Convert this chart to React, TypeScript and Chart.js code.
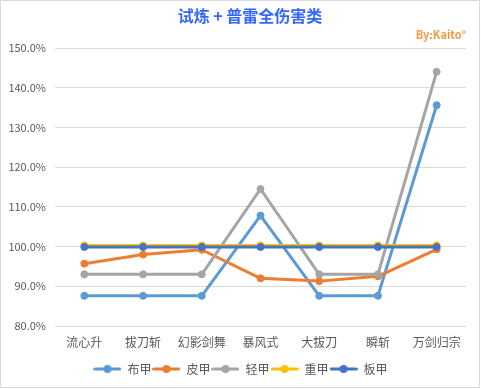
import React, { useEffect, useRef } from "react";
import { Chart, registerables } from "chart.js";

Chart.register(...registerables);

const categories = ["流心升", "拔刀斩", "幻影剑舞", "暴风式", "大拔刀", "瞬斩", "万剑归宗"];
const seriesNames = ["布甲", "皮甲", "轻甲", "重甲", "板甲"];
const buJia = [87.6, 87.6, 87.6, 107.8, 87.6, 87.6, 135.6];
const piJia = [95.7, 98.0, 99.2, 92.0, 91.3, 92.5, 99.3];
const qingJia = [93.0, 93.0, 93.0, 114.5, 93.0, 93.0, 144.0];
const zhongJia = [100.3, 100.3, 100.3, 100.3, 100.3, 100.3, 100.3];
const banJia = [99.9, 99.9, 99.9, 99.9, 99.9, 99.9, 99.9];
const seriesValues = [buJia, piJia, qingJia, zhongJia, banJia];
const seriesColors = ["#5B9BD5", "#ED7D31", "#A5A5A5", "#FFC000", "#4472C4"];
const yMin = 80;
const yMax = 150;
const yStep = 10;
const titleText = "试炼 + 普雷全伤害类";
const signText = "By:Kaito°";

const FONT = '"Noto Sans CJK SC", "Noto Sans", sans-serif';
const TEXT_GRAY = "#595959";

function makeLegendIcon(color: string): HTMLCanvasElement {
  const c = document.createElement("canvas");
  c.width = 28;
  c.height = 10;
  const g = c.getContext("2d")!;
  g.strokeStyle = color;
  g.lineWidth = 3;
  g.lineCap = "round";
  g.beginPath();
  g.moveTo(1.5, 5);
  g.lineTo(26.5, 5);
  g.stroke();
  g.fillStyle = color;
  g.beginPath();
  g.arc(14, 5, 4, 0, Math.PI * 2);
  g.fill();
  return c;
}

const decorPlugin = {
  id: "decor",
  beforeDraw(chart: any) {
    const { ctx, width, height } = chart;
    ctx.save();
    ctx.fillStyle = "#FFFFFF";
    ctx.fillRect(0, 0, width, height);
    ctx.strokeStyle = "#D9D9D9";
    ctx.lineWidth = 1;
    ctx.strokeRect(0.5, 0.5, width - 2, height - 2);
    ctx.restore();
  },
  afterDraw(chart: any) {
    const { ctx } = chart;
    ctx.save();
    ctx.fillStyle = "#3366FF";
    ctx.font = `bold 16px ${FONT}`;
    ctx.textAlign = "center";
    ctx.textBaseline = "middle";
    ctx.fillText(titleText, 250, 16);
    ctx.fillStyle = "#F79A3E";
    ctx.font = `bold 11px ${FONT}`;
    ctx.textAlign = "right";
    ctx.fillText(signText, 466, 35);
    ctx.restore();
  },
};

export default function App() {
  const ref = useRef<HTMLCanvasElement | null>(null);

  useEffect(() => {
    document.body.style.margin = "0";
    const canvas = ref.current;
    if (!canvas) return;
    const icons = seriesColors.map((c) => makeLegendIcon(c));

    const datasets = seriesNames.map((name, i) => ({
      label: name,
      data: seriesValues[i],
      borderColor: seriesColors[i],
      backgroundColor: seriesColors[i],
      pointBackgroundColor: seriesColors[i],
      pointBorderColor: seriesColors[i],
      borderWidth: 3,
      pointRadius: 3.5,
      pointBorderWidth: 1,
      pointStyle: "circle",
      borderCapStyle: "round" as const,
      borderJoinStyle: "round" as const,
      tension: 0,
      fill: false,
      order: seriesNames.length - i,
    }));

    const chart = new Chart(canvas, {
      type: "line",
      data: { labels: categories, datasets },
      plugins: [decorPlugin],
      options: {
        responsive: false,
        animation: false,
        layout: { padding: { left: 8, right: 8, top: 48, bottom: 4 } },
        scales: {
          x: {
            offset: true,
            grid: { display: false },
            border: { display: false },
            ticks: {
              color: TEXT_GRAY,
              font: { family: FONT, size: 12 },
              padding: 1,
              maxRotation: 0,
              autoSkip: false,
            },
            afterFit: (s: any) => {
              s.height = 36;
            },
          },
          y: {
            min: yMin,
            max: yMax,
            ticks: {
              stepSize: yStep,
              color: TEXT_GRAY,
              font: { family: FONT, size: 11 },
              padding: 9,
              callback: (v: any) => Number(v).toFixed(1) + "%",
            },
            grid: { color: "#D9D9D9", lineWidth: 1, drawTicks: false },
            border: { display: false },
            afterFit: (s: any) => {
              s.width = 47;
            },
          },
          y2: {
            position: "right",
            display: true,
            grid: { display: false },
            ticks: { display: false },
            border: { display: false },
            afterFit: (s: any) => {
              s.width = 7;
            },
          },
        },
        plugins: {
          title: { display: false },
          tooltip: { enabled: false },
          legend: {
            display: true,
            position: "bottom",
            labels: {
              color: TEXT_GRAY,
              font: { family: FONT, size: 12 },
              usePointStyle: true,
              pointStyleWidth: 28,
              boxHeight: 12,
              padding: 1,
              sort: (a: any, b: any) => a.datasetIndex - b.datasetIndex,
              generateLabels: (ch: any) => {
                const items = (Chart.defaults.plugins.legend.labels as any).generateLabels(ch);
                return items.map((it: any) => ({
                  ...it,
                  pointStyle: icons[it.datasetIndex],
                }));
              },
            },
          },
        },
      } as any,
    });

    return () => {
      chart.destroy();
    };
  }, []);

  return (
    <div style={{ position: "fixed", left: 0, top: 0, width: 481, height: 389 }}>
      <canvas ref={ref} width={481} height={389} style={{ display: "block" }} />
    </div>
  );
}
